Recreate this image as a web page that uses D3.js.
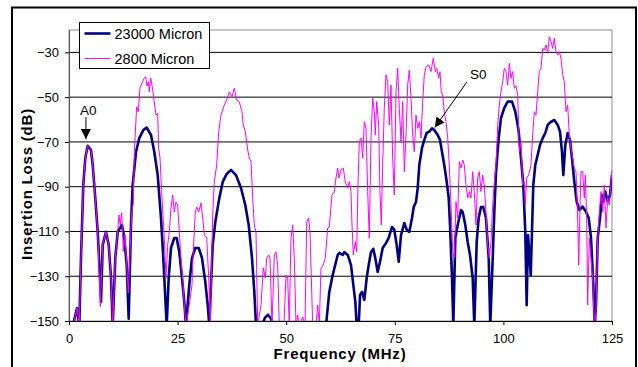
<!DOCTYPE html>
<html>
<head>
<meta charset="utf-8">
<script src="https://cdn.jsdelivr.net/npm/d3@7"></script>
<style>
  body { margin: 0; background: #fff; }
  svg { display: block; font-family: Arial, "Liberation Sans", sans-serif; }
</style>
</head>
<body>
<svg id="chart" width="638" height="367"></svg>
<script>
const xTicks = [0, 25, 50, 75, 100, 125];
const yTicks = [-150, -130, -110, -90, -70, -50, -30];
const seriesNames = ['23000 Micron', '2800 Micron'];

// [frequency MHz, insertion loss dB] (values under -150 are clipped)
const micron23000 = [
  [1.0,-155],[1.15,-150],[1.84,-144.2],[2.37,-152],[2.76,-121.9],[3.29,-89.2],[3.75,-77.2],[4.30,-71.7],
  [5.06,-73.6],[5.46,-80.3],[6.05,-95.1],[6.61,-110.2],[7.14,-130.8],[7.37,-141.5],[7.76,-116.0],[8.52,-110.2],
  [9.14,-116.0],[9.67,-130.8],[10.06,-152],[10.66,-121.9],[11.21,-110.2],[11.74,-108.5],[12.20,-107.1],[12.73,-112.9],
  [13.28,-125.0],[13.74,-149],[14.27,-107.1],[14.66,-89.2],[15.42,-74.5],[16.18,-68.3],[17.10,-64.7],[17.89,-63.6],
  [18.88,-66.9],[19.64,-74.5],[20.42,-84.8],[20.95,-98.2],[21.18,-104.0],[21.71,-121.9],[22.17,-139.7],[22.49,-152],
  [22.95,-130.8],[23.48,-117.4],[24.24,-112.9],[24.79,-112.9],[25.39,-119.2],[26.01,-130.8],[26.54,-141.5],[26.93,-152],
  [27.69,-133.9],[28.31,-121.9],[29.07,-117.4],[29.86,-117.4],[30.62,-121.9],[31.38,-132.6],[31.93,-142.9],[32.30,-152],
  [33.08,-116.0],[33.68,-105.8],[34.60,-95.1],[35.38,-87.9],[36.30,-84.3],[37.29,-82.5],[38.44,-84.8],[39.59,-90.6],
  [40.58,-98.2],[41.37,-107.1],[42.13,-121.9],[42.66,-137.0],[43.05,-152],[44.43,-152],[45.12,-148.5],[45.81,-147.2],
  [46.50,-149],[46.96,-152],[53.2,-160],[59.16,-152],[59.92,-137.0],[60.70,-129.5],[61.85,-120.5],[62.22,-119.6],
  [63.00,-120.5],[63.37,-119.2],[64.16,-120.5],[64.92,-125.0],[65.45,-133.9],[65.91,-141.5],[66.23,-152],[66.69,-152],
  [67.00,-138.4],[67.45,-137.0],[67.98,-140.6],[68.53,-130.8],[68.99,-125.0],[69.52,-119.2],[70.05,-117.8],[70.51,-121.9],
  [71.06,-128.1],[71.59,-123.6],[72.21,-117.4],[72.97,-115.2],[73.59,-112.9],[74.36,-108.0],[74.88,-109.3],[75.44,-116.0],
  [75.90,-123.6],[76.43,-111.6],[77.19,-106.2],[77.74,-109.3],[78.34,-110.2],[78.96,-104.0],[79.35,-99.1],[79.88,-96.8],
  [80.27,-90.6],[80.64,-80.3],[81.26,-72.7],[81.79,-69.1],[82.34,-66.0],[82.94,-65.4],[83.56,-63.9],[84.09,-64.7],
  [84.87,-66.9],[85.40,-69.1],[85.86,-74.4],[86.39,-80.3],[86.95,-87.8],[87.41,-95.1],[87.71,-107.1],[88.17,-130.8],
  [88.47,-152],[88.93,-112.9],[89.48,-107.1],[90.24,-100.4],[90.63,-101.3],[91.23,-107.1],[91.78,-114.7],[92.31,-120.5],
  [92.93,-130.8],[93.30,-152],[93.85,-114.7],[94.31,-104.0],[94.84,-99.1],[95.37,-99.1],[95.99,-104.0],[96.62,-121.9],
  [96.98,-152],[97.54,-121.9],[97.91,-101.3],[98.30,-83.4],[98.92,-68.3],[99.45,-59.3],[100.21,-54.8],[100.99,-52.0],
  [101.98,-52.0],[102.74,-56.5],[103.29,-62.4],[103.52,-65.4],[104.05,-77.2],[104.58,-89.2],[105.04,-110.2],[105.36,-142.9],
  [105.66,-111.6],[105.96,-119.2],[106.29,-129.5],[106.58,-110.2],[106.88,-89.2],[107.34,-80.3],[107.90,-75.8],[108.43,-71.4],
  [109.05,-68.3],[109.65,-66.0],[110.20,-62.4],[110.96,-61.0],[111.72,-60.2],[112.50,-62.4],[113.03,-65.4],[113.49,-74.4],
  [113.79,-84.8],[114.25,-71.4],[114.80,-66.0],[115.33,-69.1],[115.79,-77.2],[116.32,-87.8],[116.87,-96.7],[117.47,-100.4],
  [118.25,-98.9],[119.01,-101.2],[119.64,-104.0],[120.17,-112.9],[120.70,-133.9],[121.02,-152],[121.32,-142.9],[121.71,-112.9],
  [122.24,-104.0],[122.70,-93.7],[123.00,-96.7],[123.46,-92.2],[124.01,-96.7],[124.54,-93.7],[125.00,-84.8]
];

const micron2800 = [
  [1.0,-155],[1.15,-150],[1.84,-144.2],[2.37,-152],[2.76,-121.9],[3.29,-89.2],[3.75,-77.2],[4.30,-71.7],
  [5.06,-73.6],[5.46,-80.3],[6.05,-95.1],[6.61,-110.2],[7.21,-143.6],[7.76,-116.0],[8.52,-110.2],[9.14,-116.0],
  [9.67,-130.8],[10.06,-152],[10.66,-121.9],[11.21,-109.8],[11.51,-102.7],[11.81,-107.1],[12.13,-101.7],[12.50,-118.7],
  [12.89,-111.6],[13.65,-137.5],[14.43,-101.7],[14.80,-97.3],[15.03,-74.4],[15.58,-54.3],[15.95,-56.5],[16.34,-45.9],
  [16.97,-43.1],[17.33,-41.4],[17.66,-40.9],[17.96,-45.0],[18.26,-43.1],[18.49,-47.6],[18.81,-41.4],[19.27,-46.8],
  [19.57,-51.3],[20.03,-58.0],[20.42,-57.3],[20.64,-72.7],[20.95,-77.2],[21.41,-95.1],[21.94,-112.9],[22.33,-130.8],
  [22.72,-116.0],[23.09,-110.2],[23.48,-99.5],[23.87,-93.7],[24.24,-101.3],[24.63,-96.8],[25.02,-98.2],[25.39,-110.2],
  [25.78,-121.9],[26.17,-130.8],[26.54,-142.9],[26.93,-152],[27.69,-142.9],[28.31,-133.9],[28.61,-119.2],[29.07,-101.3],
  [29.40,-99.1],[29.86,-101.3],[30.39,-97.3],[30.78,-104.0],[31.15,-111.6],[31.70,-112.9],[32.16,-130.8],[32.53,-152],
  [33.08,-102.6],[33.45,-87.9],[34.00,-80.3],[34.46,-65.4],[34.99,-58.0],[35.75,-53.5],[36.30,-51.3],[36.90,-47.6],
  [37.52,-49.8],[38.05,-46.0],[38.60,-51.3],[39.20,-52.0],[39.82,-56.5],[40.12,-62.4],[40.58,-65.4],[41.14,-73.6],
  [41.51,-77.2],[41.90,-78.8],[42.29,-95.1],[42.66,-107.1],[43.05,-110.2],[43.44,-152],[44.20,-142.9],[44.73,-126.3],
  [45.19,-130.8],[45.51,-121.9],[45.97,-120.5],[46.27,-121.9],[46.73,-152],[47.26,-120.5],[47.65,-119.2],[48.04,-125.0],
  [48.41,-152],[49.49,-152],[49.95,-129.5],[50.34,-130.8],[50.71,-152],[51.10,-112.9],[51.50,-107.1],[51.86,-121.9],
  [52.26,-152],[52.65,-147.3],[52.95,-152],[53.80,-148.2],[54.33,-152],[54.72,-105.8],[55.18,-104.0],[55.48,-110.2],
  [56.10,-152],[56.86,-152],[57.25,-142.9],[57.62,-152],[58.01,-126.3],[58.54,-125.0],[59.00,-121.9],[59.55,-108.5],
  [59.92,-108.0],[60.54,-93.7],[61.07,-92.4],[61.46,-86.1],[61.85,-81.7],[62.15,-86.1],[62.61,-82.5],[63.14,-81.7],
  [63.60,-87.8],[64.16,-90.6],[64.53,-87.8],[64.92,-92.2],[65.15,-107.1],[65.45,-120.5],[65.91,-114.6],[66.23,-119.0],
  [66.53,-89.2],[66.83,-69.9],[67.22,-68.3],[67.61,-77.2],[67.98,-61.0],[68.37,-63.9],[68.76,-92.2],[69.13,-112.9],
  [69.52,-68.3],[69.91,-50.5],[70.28,-56.5],[70.51,-66.9],[70.83,-52.0],[71.29,-62.4],[71.59,-92.2],[71.89,-107.1],
  [72.21,-80.3],[72.58,-55.0],[72.97,-40.1],[73.37,-43.1],[73.73,-62.4],[74.12,-44.6],[74.51,-77.2],[74.88,-93.7],
  [75.28,-47.6],[75.67,-37.1],[76.04,-55.0],[76.43,-69.9],[76.82,-52.0],[77.19,-83.3],[77.58,-66.9],[77.97,-44.6],
  [78.34,-37.9],[78.73,-50.5],[79.12,-66.9],[79.49,-74.4],[79.88,-58.0],[80.27,-63.9],[80.64,-61.0],[81.03,-68.3],
  [81.42,-52.0],[81.79,-40.1],[82.18,-36.4],[82.80,-35.6],[83.33,-38.6],[83.86,-32.6],[84.32,-38.6],[84.65,-37.1],
  [85.11,-41.6],[85.40,-38.6],[85.70,-47.6],[86.03,-49.0],[86.39,-56.5],[86.79,-61.0],[87.18,-68.3],[87.54,-80.3],
  [87.94,-98.2],[88.33,-119.0],[88.70,-121.9],[89.09,-96.7],[89.48,-104.0],[89.85,-78.8],[90.24,-81.7],[90.63,-78.1],
  [91.00,-80.3],[91.39,-89.2],[91.78,-95.1],[92.15,-92.2],[92.54,-95.1],[92.93,-83.3],[93.30,-92.2],[93.69,-107.1],
  [94.08,-86.1],[94.45,-83.3],[94.84,-92.2],[95.23,-84.8],[95.60,-89.2],[95.99,-101.2],[96.38,-116.0],[96.75,-121.9],
  [97.15,-114.6],[97.54,-98.2],[97.91,-87.8],[98.30,-80.3],[98.69,-62.4],[99.06,-53.5],[99.45,-47.6],[99.84,-43.1],
  [100.21,-37.1],[100.60,-38.6],[100.99,-44.6],[101.36,-34.9],[101.75,-41.6],[102.14,-38.6],[102.51,-46.0],[102.90,-45.0],
  [103.29,-49.0],[103.66,-74.4],[104.05,-69.9],[104.44,-89.2],[104.81,-87.8],[105.04,-98.2],[105.36,-86.1],[105.82,-84.8],
  [106.35,-80.3],[106.74,-66.9],[107.11,-56.5],[107.50,-58.0],[107.90,-47.6],[108.26,-38.6],[108.66,-37.1],[109.05,-28.2],
  [109.42,-28.9],[109.81,-26.7],[110.20,-30.4],[110.57,-23.0],[110.96,-25.2],[111.35,-28.2],[111.72,-23.7],[112.11,-29.7],
  [112.50,-31.2],[112.87,-29.7],[113.26,-32.6],[113.65,-40.1],[114.02,-43.1],[114.41,-56.5],[114.80,-53.5],[115.17,-66.9],
  [115.56,-72.7],[115.95,-77.2],[116.32,-81.7],[116.71,-83.3],[117.10,-104.0],[117.33,-125.0],[117.63,-99.5],[117.86,-83.3],
  [118.25,-83.3],[118.62,-95.1],[118.85,-84.8],[119.17,-104.0],[119.40,-142.9],[119.77,-112.9],[120.17,-121.9],[120.56,-130.8],
  [120.93,-152],[121.32,-145.8],[121.71,-112.9],[122.08,-101.2],[122.47,-92.2],[122.86,-101.2],[123.23,-89.2],[123.62,-108.5],
  [124.01,-95.1],[124.38,-98.2],[124.77,-87.8],[125.00,-82.5]
];

// mode labels: text position and arrow from -> to, in data units
const modeLabels = [
  { text: 'A0', textAt: [2.55, -58.0], from: [3.9, -58.9], to: [3.9, -68.7] },
  { text: 'S0', textAt: [92.3, -41.9], from: [91.6, -43.2], to: [84.2, -63.6] }
];

const svg = d3.select('#chart');
const margin = { top: 30, right: 26, bottom: 46, left: 69 };
const width = 638 - margin.left - margin.right;
const height = 367 - margin.top - margin.bottom;

// outer chart frame
svg.append('rect')
  .attr('x', 12).attr('y', 7.5)
  .attr('width', 624).attr('height', 380)
  .attr('fill', 'none').attr('stroke', '#000').attr('stroke-width', 2);

svg.append('defs').append('clipPath').attr('id', 'plotClip')
  .append('rect').attr('width', width).attr('height', height);

svg.select('defs').append('marker')
  .attr('id', 'arrowHead')
  .attr('viewBox', '0 0 10 10')
  .attr('refX', 10).attr('refY', 5)
  .attr('markerWidth', 10).attr('markerHeight', 10)
  .attr('markerUnits', 'userSpaceOnUse')
  .attr('orient', 'auto')
  .append('path').attr('d', 'M0,0 L10,5 L0,10 z').attr('fill', '#000');

const g = svg.append('g').attr('transform', `translate(${margin.left},${margin.top})`);

const xScale = d3.scaleLinear().domain([0, 125]).range([0, width]);
const yScale = d3.scaleLinear().domain([-150, -20]).range([height, 0]);

// plot area border
g.append('rect')
  .attr('width', width).attr('height', height)
  .attr('fill', 'none').attr('stroke', '#8c8c8c').attr('stroke-width', 1);

// gridlines
g.append('g').selectAll('line')
  .data(yTicks.filter(d => d > -150))
  .join('line')
  .attr('x1', 0).attr('x2', width)
  .attr('y1', d => yScale(d)).attr('y2', d => yScale(d))
  .attr('stroke', '#000').attr('stroke-width', 1);

// axes
const xAxis = d3.axisBottom(xScale).tickValues(xTicks).tickSize(4).tickSizeOuter(0).tickPadding(9);
const yAxis = d3.axisLeft(yScale).tickValues(yTicks).tickSize(4).tickSizeOuter(0).tickPadding(6);

const xAxisG = g.append('g').attr('transform', `translate(0,${height})`).call(xAxis);
const yAxisG = g.append('g').call(yAxis);

[xAxisG, yAxisG].forEach(a => {
  a.select('.domain').attr('stroke', '#000');
  a.selectAll('.tick line').attr('stroke', '#000');
  a.selectAll('.tick text')
    .attr('fill', '#000')
    .style('font-family', 'Arial, "Liberation Sans", sans-serif')
    .style('font-size', '13px');
});
yAxisG.select('.domain').attr('stroke', '#555');

// series
const line = d3.line()
  .x(d => xScale(d[0]))
  .y(d => yScale(d[1]));

const plot = g.append('g').attr('clip-path', 'url(#plotClip)');

plot.append('path')
  .attr('d', line(micron23000))
  .attr('fill', 'none')
  .attr('stroke', '#000080')
  .attr('stroke-width', 2.6)
  .attr('stroke-linejoin', 'round');

plot.append('path')
  .attr('d', line(micron2800))
  .attr('fill', 'none')
  .attr('stroke', '#ff00ff')
  .attr('stroke-width', 1)
  .attr('stroke-linejoin', 'round');

// mode annotations
modeLabels.forEach(m => {
  g.append('line')
    .attr('x1', xScale(m.from[0])).attr('y1', yScale(m.from[1]))
    .attr('x2', xScale(m.to[0])).attr('y2', yScale(m.to[1]))
    .attr('stroke', '#000').attr('stroke-width', 1)
    .attr('marker-end', 'url(#arrowHead)');
  g.append('text')
    .attr('x', xScale(m.textAt[0])).attr('y', yScale(m.textAt[1]))
    .style('font-size', '13.5px')
    .text(m.text);
});

// axis titles
svg.append('text')
  .attr('transform', 'translate(32,184) rotate(-90)')
  .attr('text-anchor', 'middle')
  .style('font-size', '15px').style('font-weight', 'bold').style('letter-spacing', '0.8px')
  .text('Insertion Loss (dB)');

svg.append('text')
  .attr('x', 340).attr('y', 359)
  .attr('text-anchor', 'middle')
  .style('font-size', '15px').style('font-weight', 'bold').style('letter-spacing', '0.8px')
  .text('Frequency (MHz)');

// legend
const legend = svg.append('g').attr('transform', 'translate(79.5,22.5)');
legend.append('rect')
  .attr('width', 130).attr('height', 46)
  .attr('fill', '#fff').attr('stroke', '#000').attr('stroke-width', 1);

const legendStyles = [
  { color: '#000080', width: 2.6 },
  { color: '#ff00ff', width: 1 }
];
seriesNames.forEach((name, i) => {
  const y = 11 + i * 25;
  legend.append('line')
    .attr('x1', 5).attr('x2', 31).attr('y1', y).attr('y2', y)
    .attr('stroke', legendStyles[i].color).attr('stroke-width', legendStyles[i].width);
  legend.append('text')
    .attr('x', 35).attr('y', y + 5)
    .style('font-size', '14.5px')
    .text(name);
});
</script>
</body>
</html>
